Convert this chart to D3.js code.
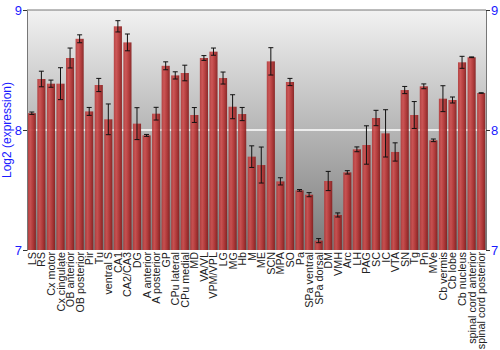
<!DOCTYPE html>
<html>
<head>
<meta charset="utf-8">
<script src="https://cdn.jsdelivr.net/npm/d3@7"></script>
<style>
  body { margin: 0; background: #fff; }
  text { font-family: "Liberation Sans", Arial, sans-serif; }
</style>
</head>
<body>
<div id="vis"></div>
<script>
// regions, mean log2 expression and error half-widths
var regions = ["LS", "RS", "Cx motor", "Cx cingulate", "OB anterior", "OB posterior", "Pir", "Tu",
  "ventral S", "CA1", "CA2/CA3", "DG", "A anterior", "A posterior", "GP", "CPu lateral",
  "CPu medial", "MD", "VA/VL", "VPM/VPL", "LG", "MG", "Hb", "M", "ME", "SCN", "MPA", "SO",
  "Pa", "SPa ventral", "SPa dorsal", "DM", "VMH", "Arc", "LH", "PAG", "SC", "IC", "VTA",
  "SN", "Tg", "Pn", "MVe", "Cb vermis", "Cb lobe", "Cb nucleus", "spinal cord anterior",
  "spinal cord posterior"];
var values = [8.14, 8.425, 8.386, 8.386, 8.60, 8.76, 8.155, 8.375,
  8.089, 8.864, 8.73, 8.053, 7.955, 8.136, 8.535, 8.455,
  8.475, 8.125, 8.60, 8.653, 8.433, 8.194, 8.133, 7.778, 7.708, 8.572, 7.572, 8.40,
  7.497, 7.461, 7.078, 7.575, 7.292, 7.647, 7.839, 7.875, 8.10, 7.972, 7.817,
  8.333, 8.125, 8.364, 7.914, 8.261, 8.25, 8.564, 8.606, 8.308];
var errors = [0.01, 0.065, 0.03, 0.133, 0.083, 0.033, 0.033, 0.055,
  0.128, 0.047, 0.07, 0.133, 0.008, 0.053, 0.033, 0.03,
  0.065, 0.062, 0.02, 0.03, 0.05, 0.1, 0.055, 0.09, 0.15, 0.114, 0.03, 0.03,
  0.007, 0.017, 0.017, 0.08, 0.017, 0.014, 0.02, 0.16, 0.064, 0.197, 0.076,
  0.03, 0.112, 0.02, 0.011, 0.108, 0.025, 0.05, 0.003, 0.002];
var yTicks = [7, 8, 9];

var margin = {top: 10, right: 14, bottom: 100, left: 27},
    width = 500 - margin.left - margin.right,
    height = 350 - margin.top - margin.bottom;

var svg = d3.select("#vis").append("svg")
  .attr("width", 500)
  .attr("height", 350);

var defs = svg.append("defs");

var bg = defs.append("linearGradient")
  .attr("id", "bg").attr("x1", 0).attr("y1", 0).attr("x2", 0).attr("y2", 1);
bg.append("stop").attr("offset", "0%").attr("stop-color", "#f2f2f2");
bg.append("stop").attr("offset", "100%").attr("stop-color", "#7a7a7a");

var barGrad = defs.append("linearGradient")
  .attr("id", "bar").attr("x1", 0).attr("y1", 0).attr("x2", 1).attr("y2", 0);
barGrad.append("stop").attr("offset", "0%").attr("stop-color", "#b03838");
barGrad.append("stop").attr("offset", "30%").attr("stop-color", "#cc4c4c");
barGrad.append("stop").attr("offset", "65%").attr("stop-color", "#b23232");
barGrad.append("stop").attr("offset", "100%").attr("stop-color", "#841c1c");

var g = svg.append("g")
  .attr("transform", "translate(" + margin.left + "," + margin.top + ")");

var x = d3.scaleBand()
  .domain(regions)
  .range([0, width])
  .paddingInner(0.15)
  .paddingOuter(0.08);

var y = d3.scaleLinear()
  .domain([7, 9])
  .range([height, 0]);

g.append("rect")
  .attr("width", width)
  .attr("height", height)
  .attr("fill", "url(#bg)");

// white reference line at 8
g.append("line")
  .attr("x1", 0).attr("x2", width)
  .attr("y1", y(8)).attr("y2", y(8))
  .attr("stroke", "#fff")
  .attr("stroke-width", 1.5);

g.selectAll(".bar")
  .data(values)
  .enter().append("rect")
    .attr("class", "bar")
    .attr("x", function(d, i){ return x(regions[i]); })
    .attr("y", function(d){ return y(d); })
    .attr("width", x.bandwidth())
    .attr("height", function(d){ return height - y(d); })
    .attr("fill", "url(#bar)")
    .attr("opacity", 0.92);

var err = g.selectAll(".err")
  .data(values)
  .enter().append("g")
    .attr("class", "err")
    .attr("transform", function(d, i){ return "translate(" + (x(regions[i]) + x.bandwidth() / 2) + ",0)"; })
    .attr("stroke", "#111")
    .attr("stroke-width", 1);

err.append("line")
  .attr("y1", function(d, i){ return y(d - errors[i]); })
  .attr("y2", function(d, i){ return y(d + errors[i]); });
err.append("line")
  .attr("x1", -2.5).attr("x2", 2.5)
  .attr("y1", function(d, i){ return y(d + errors[i]); })
  .attr("y2", function(d, i){ return y(d + errors[i]); });
err.append("line")
  .attr("x1", -2.5).attr("x2", 2.5)
  .attr("y1", function(d, i){ return y(d - errors[i]); })
  .attr("y2", function(d, i){ return y(d - errors[i]); });

// top border
g.append("line")
  .attr("x1", 0).attr("x2", width)
  .attr("y1", 0).attr("y2", 0)
  .attr("stroke", "#777");

var yAxisL = g.append("g").call(d3.axisLeft(y).tickValues(yTicks).tickSize(4).tickFormat(d3.format("d")));
var yAxisR = g.append("g").attr("transform", "translate(" + width + ",0)")
  .call(d3.axisRight(y).tickValues(yTicks).tickSize(4).tickFormat(d3.format("d")));
[yAxisL, yAxisR].forEach(function(a){
  a.select(".domain").attr("stroke", "#777");
  a.selectAll(".tick line").attr("stroke", "#333");
  a.selectAll(".tick text").attr("fill", "#1a1aff").style("font-size", "13px");
});
yAxisL.selectAll(".tick text").attr("x", -5);
yAxisR.selectAll(".tick text").attr("x", 5);

g.append("text")
  .attr("transform", "rotate(-90)")
  .attr("x", -height / 2)
  .attr("y", -16)
  .attr("text-anchor", "middle")
  .attr("fill", "#1a1aff")
  .style("font-size", "12px")
  .text("Log2 (expression)");

g.selectAll(".xlab")
  .data(regions)
  .enter().append("text")
    .attr("class", "xlab")
    .attr("transform", function(d){ return "translate(" + (x(d) + x.bandwidth() / 2 + 4) + "," + (height + 2) + ") rotate(-90)"; })
    .attr("text-anchor", "end")
    .attr("fill", "#222")
    .style("font-size", "10.8px")
    .text(function(d){ return d; });
</script>
</body>
</html>
